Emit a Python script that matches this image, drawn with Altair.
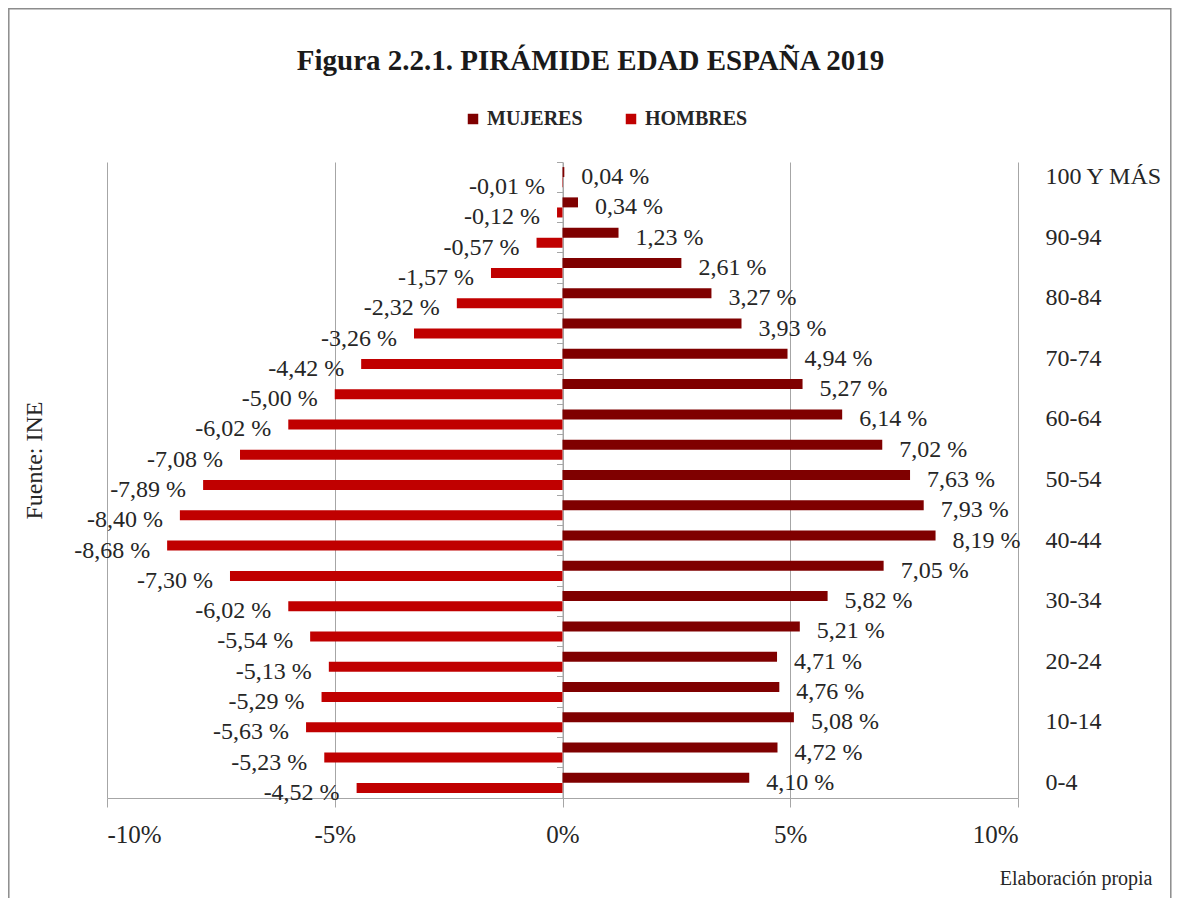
import altair as alt
import pandas as pd

ages = ["0-4", "5-9", "10-14", "15-19", "20-24", "25-29", "30-34", "35-39",
        "40-44", "45-49", "50-54", "55-59", "60-64", "65-69", "70-74", "75-79",
        "80-84", "85-89", "90-94", "95-99", "100 Y MÁS"]
mujeres = [4.10, 4.72, 5.08, 4.76, 4.71, 5.21, 5.82, 7.05, 8.19, 7.93, 7.63,
           7.02, 6.14, 5.27, 4.94, 3.93, 3.27, 2.61, 1.23, 0.34, 0.04]
hombres = [-4.52, -5.23, -5.63, -5.29, -5.13, -5.54, -6.02, -7.30, -8.68, -8.40,
           -7.89, -7.08, -6.02, -5.00, -4.42, -3.26, -2.32, -1.57, -0.57, -0.12, -0.01]
series = ["MUJERES", "HOMBRES"]
colors = ["#7F0000", "#C00000"]
x_ticks = [-10, -5, 0, 5, 10]

rows = []
for a, m, h in zip(ages, mujeres, hombres):
    for s, v in ((series[0], m), (series[1], h)):
        rows.append({"edad": a, "sexo": s, "valor": v,
                     "etiqueta": f"{v:.2f}".replace(".", ",") + " %"})
df = pd.DataFrame(rows)

FONT = "Liberation Serif"
TXT = "#262626"
order = list(reversed(ages))
GRID = "#A6A6A6"

y_right = alt.Y("edad:N", sort=order,
                scale=alt.Scale(paddingInner=0, paddingOuter=0),
                axis=alt.Axis(orient="right", values=ages[::2], ticks=False, domain=False,
                              labelPadding=27, labelFontSize=24, labelFont=FONT,
                              labelColor=TXT, title=None, labelAlign="left"))
y_off = alt.YOffset("sexo:N", sort=series,
                    scale=alt.Scale(paddingOuter=0.5, paddingInner=0))
x_enc = alt.X("valor:Q", scale=alt.Scale(domain=[-10, 10]),
              axis=alt.Axis(values=x_ticks, grid=True, gridColor=GRID, domainColor=GRID,
                            tickColor=GRID, tickSize=9, labelPadding=15,
                            labelFontSize=25, labelFont=FONT, labelColor=TXT,
                            labelExpr="(datum.value < 0 ? '-' : '') + abs(datum.value) + '%'",
                            title="Elaboración propia", titleX=1045, titleY=80,
                            titleAlign="right", titleBaseline="middle",
                            titleFontSize=20, titleFontWeight="normal", titleFont=FONT,
                            titleColor=TXT))

base = alt.Chart(df)

bars = base.mark_bar(size=10).encode(
    x=x_enc,
    y=y_right,
    yOffset=y_off,
    color=alt.Color("sexo:N", sort=series,
                    scale=alt.Scale(domain=series, range=colors),
                    legend=alt.Legend(orient="none", legendX=356, legendY=-53,
                                      direction="horizontal", title=None,
                                      symbolType="square", symbolSize=110,
                                      symbolStrokeWidth=0, labelFont=FONT,
                                      labelFontSize=20, labelFontWeight="bold",
                                      labelColor=TXT, columnPadding=38,
                                      labelOffset=4)),
)

y_plain = alt.Y("edad:N", sort=order, axis=None)

txt_pos = base.transform_filter(alt.datum.valor >= 0).mark_text(
    align="left", baseline="middle", dx=17, dy=5, font=FONT, fontSize=24,
    color=TXT).encode(x="valor:Q", y=y_plain, yOffset=y_off, text="etiqueta:N")
txt_neg = base.transform_filter(alt.datum.valor < 0).mark_text(
    align="right", baseline="middle", dx=-17, dy=5, font=FONT, fontSize=24,
    color=TXT).encode(x="valor:Q", y=y_plain, yOffset=y_off, text="etiqueta:N")

carrier = base.mark_point(opacity=0).encode(
    x=alt.datum(0),
    y=alt.Y("edad:N", sort=order,
            axis=alt.Axis(orient="left", offset=-455.5, labels=False, ticks=True,
                          tickSize=6, tickColor=GRID, domainColor=GRID,
                          bandPosition=0, grid=False,
                          title="Fuente: INE", titleX=-528, titleY=298,
                          titleAngle=-90, titleAlign="center", titleBaseline="middle",
                          titleFont=FONT, titleFontSize=24, titleFontWeight="normal",
                          titleColor=TXT)),
)

# decorative outer frame of the chart area
frame = alt.Chart(pd.DataFrame({"k": [0]})).mark_rect(
    fill="transparent", stroke="#8C8C8C", strokeWidth=1.5).encode(
    x=alt.value(-98.2), x2=alt.value(1063.8), y=alt.value(-153.2), y2=alt.value(780))

chart = alt.layer(frame, bars, txt_pos, txt_neg, carrier).resolve_axis(y="independent").properties(
    width=911, height=636,
    autosize=alt.AutoSizeParams(type="none"),
    padding={"left": 99, "top": 154, "right": 154, "bottom": 100},
    title=alt.TitleParams("Figura 2.2.1. PIRÁMIDE EDAD ESPAÑA 2019", font=FONT,
                          fontSize=29, fontWeight="bold", anchor="middle", frame="group",
                          dx=28, offset=-97, color="#1a1a1a", baseline="bottom"),
    background="white",
).configure_view(stroke="transparent")

chart.save("out.html", embed_options={"renderer": "svg", "actions": False})
